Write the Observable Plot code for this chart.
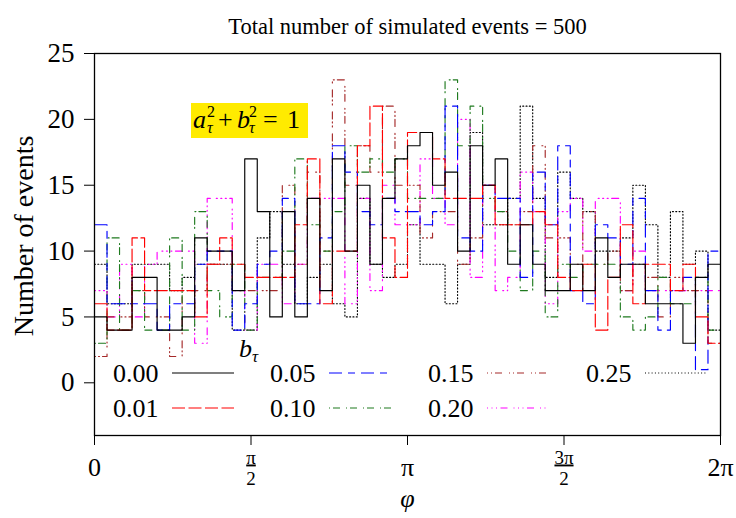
<!DOCTYPE html>
<html><head><meta charset="utf-8">
<script src="https://cdn.jsdelivr.net/npm/d3@7"></script>
<script src="https://cdn.jsdelivr.net/npm/@observablehq/plot@0.6"></script>
<style>
body{margin:0;background:#fff;}
#chart svg{display:block;}
.fracnum text{text-decoration:underline;}
</style></head><body><div id="chart"></div>
<script>
// ---- data ----
const nBins = 50;
const bTau = ["0.00","0.01","0.05","0.10","0.15","0.20","0.25"];
const s000 = [5,4,4,8,8,4,4,5,11,10,10,7,17,13,5,13,5,14,7,17,10,15,9,14,17,18,19,15,16,10,18,15,17,9,12,9,7,7,9,7,11,8,9,9,6,6,6,3,8,9];
const s001 = [6,4,4,11,7,7,7,7,5,9,11,9,8,8,8,8,12,17,6,10,10,18,21,11,8,19,19,17,14,14,14,15,12,12,12,13,12,8,7,9,4,8,12,6,9,9,7,9,5,3];
const s005 = [12,6,6,6,6,4,6,6,9,10,10,4,6,9,10,14,6,6,11,18,16,13,12,14,13,13,12,13,21,11,10,15,14,14,8,16,12,18,7,6,12,11,9,14,7,4,7,8,1,10];
const s010 = [3,11,4,7,4,4,11,4,13,7,5,9,4,8,8,10,17,12,10,13,18,16,17,16,17,14,14,14,23,18,21,14,13,10,7,10,5,9,8,9,9,9,5,4,5,8,6,6,8,4];
const s015 = [2,5,5,7,5,5,2,7,7,9,9,7,7,7,7,15,9,16,10,23,15,18,16,21,15,15,11,13,13,9,11,15,13,12,13,18,11,11,9,13,9,10,7,9,8,5,8,7,7,3];
const s020 = [7,5,9,5,9,10,10,10,3,14,14,7,4,9,9,6,9,14,14,14,6,14,7,15,12,12,17,14,12,20,8,15,7,8,16,13,6,13,14,10,14,14,7,10,7,7,7,7,7,7];
const s025 = [9,6,6,9,9,9,7,8,9,9,9,4,4,11,13,9,6,8,9,6,5,14,9,8,9,12,9,9,6,9,19,12,12,14,21,14,8,16,14,13,10,10,11,15,12,8,13,9,10,4];
const yTicks = [0,5,10,15,20,25];
const xTicks = [0, Math.PI/2, Math.PI, 3*Math.PI/2, 2*Math.PI];
const xTickText = ["0","","π","","2π"];
const fracNum = ["π","3π"];
const fracX = [Math.PI/2, 3*Math.PI/2];
const fracDen = ["2","2"];
const titleText = "Total number of simulated events = 500";
const yLabel = "Number of events";

// ---- styles ----
const colors = ["black","red","blue","#1f7a1f","#a52a2a","magenta","black"];
const dashes = [null,"13,3.5","13,6,7,6","1,3,7,6","1,3,1,3,7,7","1,3.5,1,3.5,1,3.5,7,6","1,2.3"];
const serif = "'Liberation Serif','DejaVu Serif',serif";

const series = [s000,s001,s005,s010,s015,s020,s025];
const binW = 2*Math.PI/nBins;
const rows = [];
series.forEach((vals,i)=>{
  vals.forEach((v,k)=>rows.push({b:bTau[i], x:k*binW, y:v}));
  rows.push({b:bTau[i], x:nBins*binW, y:vals[vals.length-1]});
});
const fracs = fracX.map((x,i)=>({x, num:fracNum[i], den:fracDen[i]}));

const lineMarks = bTau.map((b,i)=>Plot.line(rows.filter(r=>r.b===b), {
  x:"x", y:"y", curve:"step-after", stroke:colors[i], strokeWidth:1.15,
  strokeDasharray: dashes[i] || undefined
})).reverse();

const chart = Plot.plot({
  width:736, height:518,
  marginLeft:94, marginRight:16, marginTop:53, marginBottom:83,
  x:{domain:[0,2*Math.PI]},
  y:{domain:[-4,25]},
  style:{fontFamily:serif, fontSize:"26px", color:"black", background:"white"},
  marks:[
    ...lineMarks,
    Plot.frame({stroke:"black", strokeWidth:1.3}),
    Plot.axisY({ticks:yTicks, tickSize:10, tickPadding:10, label:null, fontSize:27}),
    Plot.axisX({ticks:xTicks, tickSize:10, tickPadding:12, label:null, fontSize:26,
      tickFormat:d=>{const i=xTicks.findIndex(t=>Math.abs(t-d)<1e-9); return i<0?"":xTickText[i];}}),
    Plot.text(fracs, {x:"x", text:"num", frameAnchor:"bottom", dy:28, fontSize:19, className:"fracnum"}),
    Plot.text(fracs, {x:"x", text:"den", frameAnchor:"bottom", dy:49, fontSize:19}),
    Plot.text([titleText], {frameAnchor:"top", dy:-35, fontSize:22.5}),
    Plot.text(["φ"], {frameAnchor:"bottom", dy:71, fontSize:26, fontStyle:"italic"})
  ]
});
document.getElementById("chart").appendChild(chart);

// ---- annotations: y label, formula box, legend ----
const svg = d3.select(chart);
svg.append("text").attr("transform","translate(23,236) rotate(-90)")
  .attr("text-anchor","middle").attr("dominant-baseline","central")
  .style("font-family",serif).style("font-size","28px").text(yLabel);

const ann = svg.append("g").style("font-family",serif).attr("text-anchor","start");
ann.append("rect").attr("x",191).attr("y",103).attr("width",117).attr("height",35).attr("fill","#ffeb00");
const t = ann.append("text").style("font-size","26px");
const tsp = (x,y,s,opts={})=>{const e=t.append("tspan").attr("x",x).attr("y",y).text(s);
  if(opts.it) e.style("font-style","italic"); if(opts.sm) e.style("font-size","16px"); return e;};
tsp(193,128,"a",{it:1});
tsp(207,117,"2",{sm:1});
tsp(207,133,"τ",{it:1,sm:1});
tsp(218,128,"+");
tsp(237,128,"b",{it:1});
tsp(249,117,"2",{sm:1});
tsp(249,133,"τ",{it:1,sm:1});
tsp(263,128,"=");
tsp(287,128,"1");

const leg = svg.append("g").style("font-family",serif).attr("text-anchor","start");
const lt = leg.append("text").style("font-size","26px");
lt.append("tspan").attr("x",239).attr("y",357).style("font-style","italic").text("b");
lt.append("tspan").attr("x",252).attr("y",362).style("font-size","17px").style("font-style","italic").text("τ");
const colX = [113,270,428,586];
const rowY = [373,408];
bTau.forEach((b,i)=>{
  const c = Math.floor(i/2), r = i%2;
  const x0 = colX[c], y0 = rowY[r];
  leg.append("text").attr("x",x0).attr("y",y0).attr("dy","0.35em").style("font-size","26px").text(b);
  const ln = leg.append("line").attr("x1",x0+59).attr("x2",x0+121).attr("y1",y0).attr("y2",y0)
    .attr("stroke",colors[i]).attr("stroke-width",1.15);
  if (dashes[i]) ln.attr("stroke-dasharray",dashes[i]);
});
</script></body></html>
